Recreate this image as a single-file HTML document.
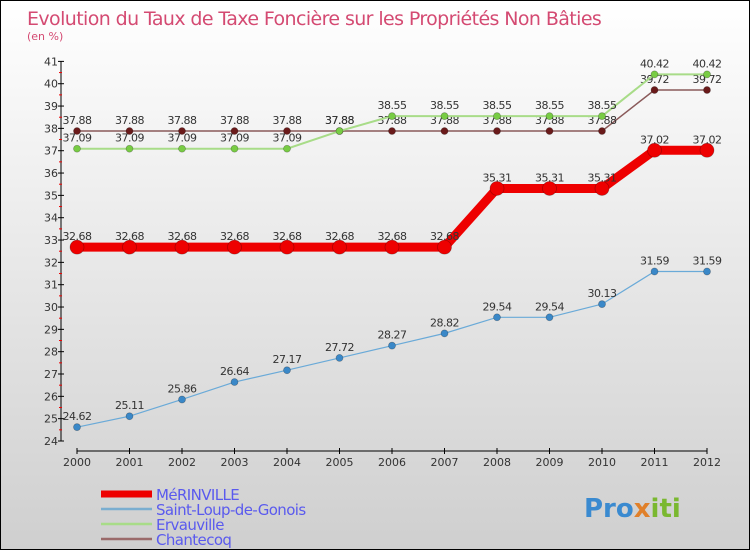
<!DOCTYPE html>
<html><head><meta charset="utf-8"><style>
body{margin:0;}
#c{width:750px;height:550px;position:relative;box-sizing:border-box;border:1px solid #000;background:linear-gradient(#ffffff,#cfcfcf);font-family:"DejaVu Sans","Liberation Sans",sans-serif;overflow:hidden}
</style></head><body>
<div id="c">
<svg id="s" width="750" height="550" style="position:absolute;left:0;top:0">
<text x="26" y="24" font-size="19" fill="#d44a72" font-family="DejaVu Sans,Liberation Sans,sans-serif" style="letter-spacing:-0.6px">Evolution du Taux de Taxe Foncière sur les Propriétés Non Bâties</text>
<text x="26" y="39" font-size="11" fill="#d44a72">(en %)</text>
<g id="axes"></g><g id="series"></g><g id="legend"></g>
<text x="583" y="516" font-size="26" font-weight="bold" fill="#3a8ad0">Pro<tspan fill="#e0802a">x</tspan><tspan fill="#7ab830">iti</tspan></text>
</svg>
</div>
<script>
const years=[2000,2001,2002,2003,2004,2005,2006,2007,2008,2009,2010,2011,2012];
const yTicks=[24,25,26,27,28,29,30,31,32,33,34,35,36,37,38,39,40,41];
const merinville=[32.68,32.68,32.68,32.68,32.68,32.68,32.68,32.68,35.31,35.31,35.31,37.02,37.02];
const saintLoup=[24.62,25.11,25.86,26.64,27.17,27.72,28.27,28.82,29.54,29.54,30.13,31.59,31.59];
const ervauville=[37.09,37.09,37.09,37.09,37.09,37.88,38.55,38.55,38.55,38.55,38.55,40.42,40.42];
const chantecoq=[37.88,37.88,37.88,37.88,37.88,37.88,37.88,37.88,37.88,37.88,37.88,39.72,39.72];
const names=["MéRINVILLE","Saint-Loup-de-Gonois","Ervauville","Chantecoq"];
const NS="http://www.w3.org/2000/svg";
function X(i){return 76+i*52.5;}
function Y(v){return 440-(v-24)*22.33;}
function mk(t,a,p){const e=document.createElementNS(NS,t);for(const k in a)e.setAttribute(k,a[k]);p.appendChild(e);return e;}
const ax=document.getElementById('axes');
let l=mk('line',{x1:60,y1:Y(41),x2:60,y2:Y(24),stroke:'#000'},ax);

l=mk('line',{x1:76,y1:450,x2:706,y2:450,stroke:'#000'},ax);

yTicks.forEach(v=>{mk('line',{x1:57,x2:63,y1:Y(v),y2:Y(v),stroke:'#000'},ax);
 if(v<41)mk('line',{x1:58,x2:61,y1:Y(v+0.5),y2:Y(v+0.5),stroke:'#e00'},ax);
 const t=mk('text',{x:57,y:Y(v)+4,'font-size':11,fill:'#333','text-anchor':'end'},ax);t.textContent=v;
 });
years.forEach((y,i)=>{mk('line',{x1:X(i),x2:X(i),y1:447,y2:453,stroke:'#000'},ax);
 const t=mk('text',{x:X(i),y:465,'font-size':11,fill:'#333','text-anchor':'middle'},ax);t.textContent=y;
 });
const sg=document.getElementById('series');
const defs=[[chantecoq,'#8a5a5a','#6a1a1a',1.5,3.5,'chantecoq'],[ervauville,'#a8dc88','#78cc44',2,3.5,'ervauville'],[saintLoup,'#6aaad8','#3a88c8',1.2,3.5,'saint-loup'],[merinville,'#ee0000','#ee0000',9,7,'merinville']];
defs.forEach(([d,lc,pc,w,r,n])=>{
 const p=mk('polyline',{points:d.map((v,i)=>X(i)+','+Y(v)).join(' '),fill:'none',stroke:lc,'stroke-width':w},sg);
 
 d.forEach((v,i)=>{const c=mk('circle',{cx:X(i),cy:Y(v),r:r,fill:pc,stroke:'rgba(0,0,0,0.3)','stroke-width':0.7},sg);
  
  const t=mk('text',{x:X(i),y:Y(v)-7,'font-size':11,fill:'#333','text-anchor':'middle','letter-spacing':'-0.5'},sg);t.textContent=String(v);
  });
});
const lg=document.getElementById('legend');
const lc=[['#ee0000',7],['#7aaed0',2.5],['#a8dc88',2.5],['#9a6a6a',2.5]];
names.forEach((n,i)=>{const y=493+i*15;
 const r=mk('line',{x1:100,x2:151,y1:y,y2:y,stroke:lc[i][0],'stroke-width':lc[i][1]},lg);
 
 const t=mk('text',{x:155,y:y+6,'font-size':15,fill:'#5a5aee','letter-spacing':'-0.6'},lg);t.textContent=n;
 });
</script>
</body></html>
